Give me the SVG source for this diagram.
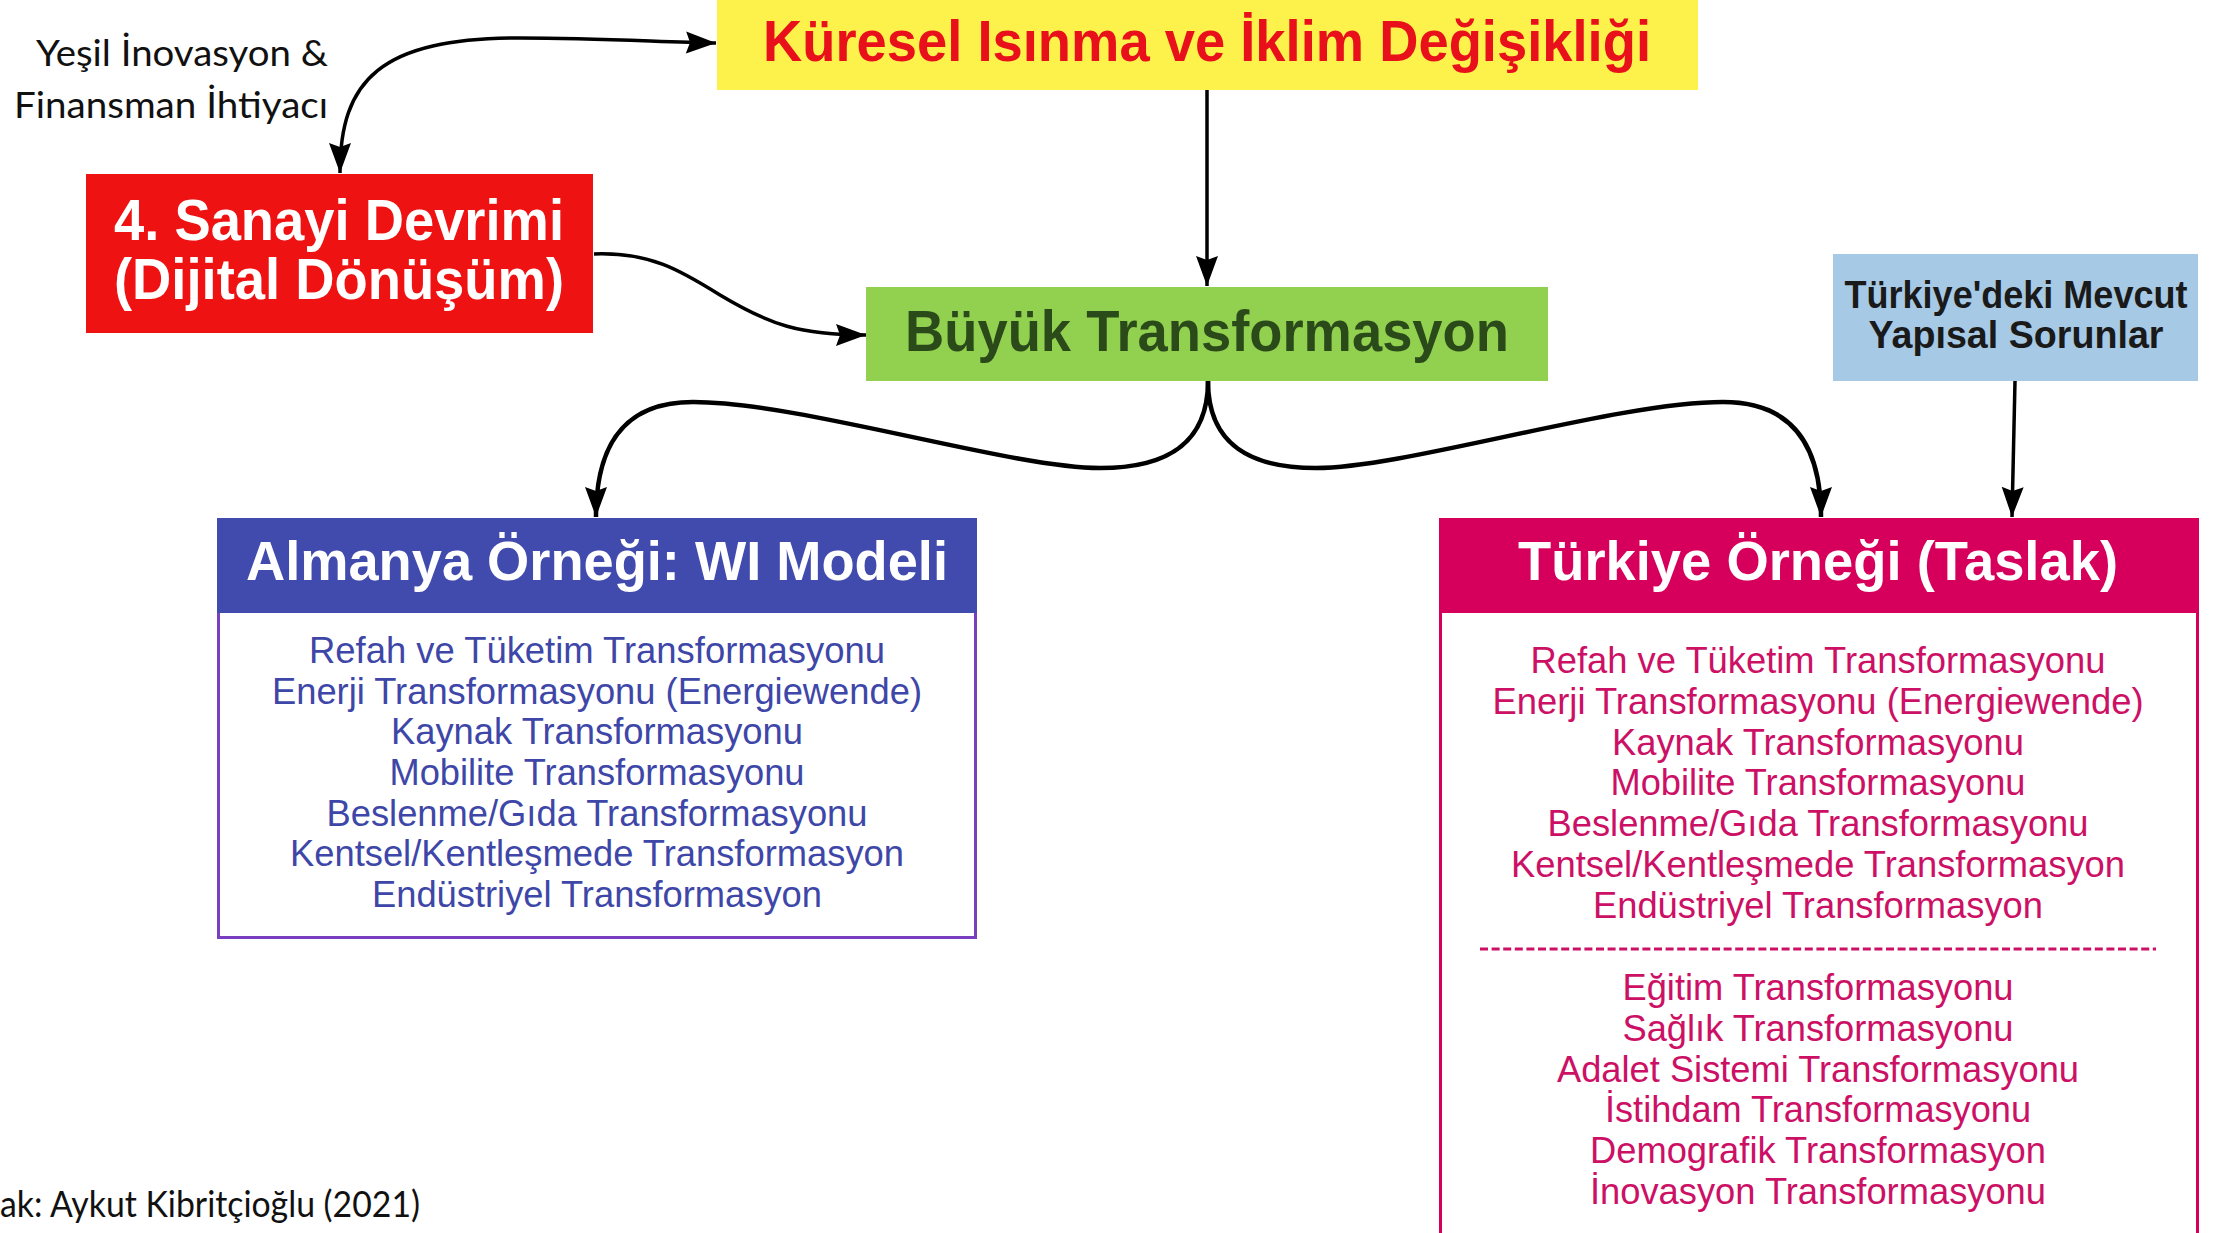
<svg xmlns="http://www.w3.org/2000/svg" width="2214" height="1233" viewBox="0 0 2214 1233">
<defs>
<style>
.b{font-family:"Liberation Sans",Arial,sans-serif;font-weight:bold;text-anchor:middle}
.r{font-family:"Liberation Sans",Arial,sans-serif;font-size:37px;text-anchor:middle}
.note{font-family:Lato,"Open Sans",sans-serif;font-size:37px;fill:#111}
.de{fill:#3e47a8}
.tr{fill:#cc1065}
.con{fill:none;stroke:#000;stroke-width:3.5}
</style>
<marker id="ah" markerUnits="userSpaceOnUse" markerWidth="32" markerHeight="24" refX="30" refY="11" orient="auto-start-reverse">
<path d="M0,0 L30,11 L0,22 L4,11 Z" fill="#000"/>
</marker>
</defs>
<rect width="2214" height="1233" fill="#fff"/>

<g id="connectors">
<path class="con" d="M340,173 C340,80 380,38 520,38 C600,38 660,42 716,43" marker-start="url(#ah)" marker-end="url(#ah)"/>
<path class="con" d="M594,254 C650,252 680,270 720,295 C770,325 800,335 866,335" marker-end="url(#ah)"/>
<path class="con" d="M1207,90 L1207,286" marker-end="url(#ah)"/>
<path class="con" style="stroke-width:4.5" d="M1208,381 C1208,445 1165,468 1100,468 C1010,468 800,402 693,402 C620,402 596,450 596,517" marker-end="url(#ah)"/>
<path class="con" style="stroke-width:4.5" d="M1208,381 C1208,445 1251,468 1316,468 C1406,468 1616,402 1723,402 C1796,402 1821,450 1821,517" marker-end="url(#ah)"/>
<path class="con" d="M2015,381 L2012,517" marker-end="url(#ah)"/>
</g>

<g id="note-yesil">
<text class="note" x="328" y="66" text-anchor="end" textLength="292" lengthAdjust="spacingAndGlyphs">Yeşil İnovasyon &amp;</text>
<text class="note" x="328" y="118" text-anchor="end" textLength="314" lengthAdjust="spacingAndGlyphs">Finansman İhtiyacı</text>
</g>

<g id="node-kuresel">
<rect x="717" y="0" width="981" height="90" fill="#fdf24b"/>
<text class="b" x="1207" y="61" font-size="58" fill="#e8101a" textLength="888" lengthAdjust="spacingAndGlyphs">Küresel Isınma ve İklim Değişikliği</text>
</g>

<g id="node-sanayi">
<rect x="86" y="174" width="507" height="159" fill="#ef1212"/>
<text class="b" x="339" y="240" font-size="58" fill="#fff" textLength="450" lengthAdjust="spacingAndGlyphs">4. Sanayi Devrimi</text>
<text class="b" x="339" y="299" font-size="58" fill="#fff" textLength="450" lengthAdjust="spacingAndGlyphs">(Dijital Dönüşüm)</text>
</g>

<g id="node-buyuk">
<rect x="866" y="287" width="682" height="94" fill="#92d050"/>
<text class="b" x="1207" y="351" font-size="58" fill="#2b4a1a" textLength="604" lengthAdjust="spacingAndGlyphs">Büyük Transformasyon</text>
</g>

<g id="node-mevcut">
<rect x="1833" y="254" width="365" height="127" fill="#a6c9e5"/>
<text class="b" x="2016" y="308" font-size="38" fill="#1a1a1a" textLength="343" lengthAdjust="spacingAndGlyphs">Türkiye'deki Mevcut</text>
<text class="b" x="2016" y="348" font-size="38" fill="#1a1a1a" textLength="295" lengthAdjust="spacingAndGlyphs">Yapısal Sorunlar</text>
</g>

<g id="node-almanya">
<rect x="218.5" y="519.5" width="757" height="418" fill="#fff" stroke="#7a3fc0" stroke-width="3"/>
<rect x="217" y="518" width="760" height="95" fill="#414aad"/>
<text class="b" x="597" y="580" font-size="55" fill="#fff" textLength="702" lengthAdjust="spacingAndGlyphs">Almanya Örneği: WI Modeli</text>
<text class="r de" x="597" y="663" textLength="576" lengthAdjust="spacingAndGlyphs">Refah ve Tüketim Transformasyonu</text>
<text class="r de" x="597" y="704" textLength="650" lengthAdjust="spacingAndGlyphs">Enerji Transformasyonu (Energiewende)</text>
<text class="r de" x="597" y="744" textLength="412" lengthAdjust="spacingAndGlyphs">Kaynak Transformasyonu</text>
<text class="r de" x="597" y="785" textLength="415" lengthAdjust="spacingAndGlyphs">Mobilite Transformasyonu</text>
<text class="r de" x="597" y="826" textLength="541" lengthAdjust="spacingAndGlyphs">Beslenme/Gıda Transformasyonu</text>
<text class="r de" x="597" y="866" textLength="614" lengthAdjust="spacingAndGlyphs">Kentsel/Kentleşmede Transformasyon</text>
<text class="r de" x="597" y="907" textLength="450" lengthAdjust="spacingAndGlyphs">Endüstriyel Transformasyon</text>
</g>

<g id="node-turkiye">
<rect x="1440.5" y="519.5" width="757" height="740" fill="#fff" stroke="#d6005c" stroke-width="3"/>
<rect x="1439" y="518" width="760" height="95" fill="#d6005c"/>
<text class="b" x="1818" y="580" font-size="55" fill="#fff" textLength="600" lengthAdjust="spacingAndGlyphs">Türkiye Örneği (Taslak)</text>
<text class="r tr" x="1818" y="673" textLength="575" lengthAdjust="spacingAndGlyphs">Refah ve Tüketim Transformasyonu</text>
<text class="r tr" x="1818" y="714" textLength="651" lengthAdjust="spacingAndGlyphs">Enerji Transformasyonu (Energiewende)</text>
<text class="r tr" x="1818" y="755" textLength="412" lengthAdjust="spacingAndGlyphs">Kaynak Transformasyonu</text>
<text class="r tr" x="1818" y="795" textLength="415" lengthAdjust="spacingAndGlyphs">Mobilite Transformasyonu</text>
<text class="r tr" x="1818" y="836" textLength="541" lengthAdjust="spacingAndGlyphs">Beslenme/Gıda Transformasyonu</text>
<text class="r tr" x="1818" y="877" textLength="614" lengthAdjust="spacingAndGlyphs">Kentsel/Kentleşmede Transformasyon</text>
<text class="r tr" x="1818" y="918" textLength="450" lengthAdjust="spacingAndGlyphs">Endüstriyel Transformasyon</text>
<line x1="1480" y1="949" x2="2156" y2="949" stroke="#cc1065" stroke-width="3" stroke-dasharray="8 3.6"/>
<text class="r tr" x="1818" y="1000" textLength="391" lengthAdjust="spacingAndGlyphs">Eğitim Transformasyonu</text>
<text class="r tr" x="1818" y="1041" textLength="391" lengthAdjust="spacingAndGlyphs">Sağlık Transformasyonu</text>
<text class="r tr" x="1818" y="1082" textLength="522" lengthAdjust="spacingAndGlyphs">Adalet Sistemi Transformasyonu</text>
<text class="r tr" x="1818" y="1122" textLength="426" lengthAdjust="spacingAndGlyphs">İstihdam Transformasyonu</text>
<text class="r tr" x="1818" y="1163" textLength="456" lengthAdjust="spacingAndGlyphs">Demografik Transformasyon</text>
<text class="r tr" x="1818" y="1204" textLength="456" lengthAdjust="spacingAndGlyphs">İnovasyon Transformasyonu</text>
</g>

<g id="source">
<text class="note" x="0" y="1217" textLength="420" lengthAdjust="spacingAndGlyphs">ak: Aykut Kibritçioğlu (2021)</text>
</g>
</svg>
